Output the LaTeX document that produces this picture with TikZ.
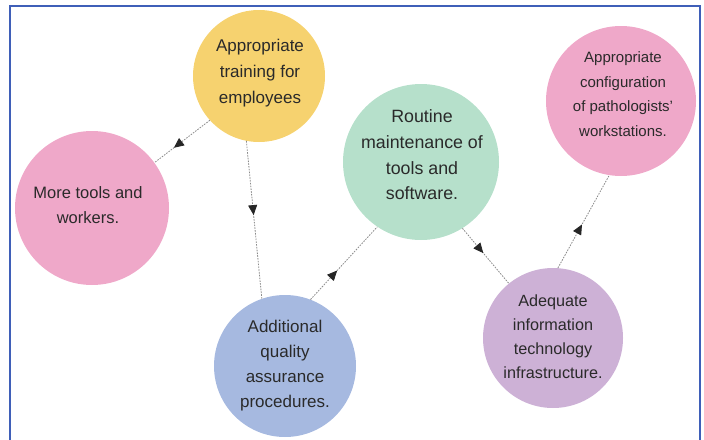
\documentclass[tikz,border=0pt]{standalone}
\usepackage{fontspec}
\setmainfont{Liberation Sans}
\usetikzlibrary{arrows.meta,decorations.markings}

\definecolor{frameblue}{HTML}{3F5FB8}
\definecolor{cyellow}{HTML}{F6D26F}
\definecolor{cpink}{HTML}{EFA8C9}
\definecolor{cgreen}{HTML}{B6E0CB}
\definecolor{cblue}{HTML}{A6B9E0}
\definecolor{cpurple}{HTML}{CDB1D6}
\definecolor{txtgray}{HTML}{2A2A2A}
\definecolor{linkgray}{HTML}{8A8A8A}

\tikzset{
  bubble/.style={circle, draw=none, inner sep=0pt},
  caption/.style={align=center, text=txtgray, inner sep=0pt,
    font=\fontsize{16.5}{25.5}\selectfont},
  link/.style={draw=linkgray, line width=0.8pt, dash pattern=on 1.6pt off 1.2pt,
    postaction={decorate},
    decoration={markings, mark=at position #1 with
      {\arrow[solid, fill=black!85, draw=black!85]{Triangle[length=10pt,width=9pt]}}}},
  frame/.style={draw=frameblue, line width=1.4pt}
}

\begin{document}
\begin{tikzpicture}[x=1pt, y=-1pt]
  \useasboundingbox (0,0) rectangle (704,439);

  % outer frame (open at the bottom)
  \draw[frame] (10,445) -- (10,6) -- (700,6) -- (700,445);

  % circles
  \node[bubble, fill=cyellow, minimum size=132pt] (train)  at (259,76)  {};
  \node[bubble, fill=cpink,   minimum size=154pt] (tools)  at (92,208)  {};
  \node[bubble, fill=cgreen,  minimum size=156pt] (maint)  at (421,162) {};
  \node[bubble, fill=cpink,   minimum size=150pt] (config) at (621,101) {};
  \node[bubble, fill=cblue,   minimum size=142pt] (qa)     at (285,366) {};
  \node[bubble, fill=cpurple, minimum size=140pt] (infra)  at (553,338) {};

  % captions
  \node[caption, font=\fontsize{17}{26}\selectfont] (trainT) at (260,73) {Appropriate\\training for\\employees};
  \node[caption] (toolsT) at (88,205) {More tools and\\workers.};
  \node[caption, font=\fontsize{17.8}{25.7}\selectfont] (maintT) at (422,155) {Routine\\maintenance of\\tools and\\software.};
  \node[caption, font=\fontsize{15}{24.5}\selectfont] (configT) at (623,94) {Appropriate\\configuration\\of pathologists'\\workstations.};
  \node[caption, font=\fontsize{17}{25}\selectfont] (qaT) at (285,366) {Additional\\quality\\assurance\\procedures.};
  \node[caption, font=\fontsize{16.2}{24}\selectfont] (infraT) at (553,337) {Adequate\\information\\technology\\infrastructure.};

  % connectors
  \draw[link=0.65] (train.222)  -- (tools.36);
  \draw[link=0.47] (train.259)  -- (qa.109);
  \draw[link=0.40] (qa.69)      -- (maint.236);
  \draw[link=0.45] (maint.302)  -- (infra.129);
  \draw[link=0.47] (infra.86)   -- (config.261);
\end{tikzpicture}
\end{document}
